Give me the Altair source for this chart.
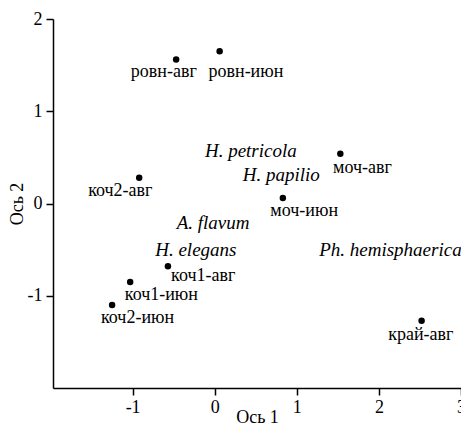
import altair as alt
import pandas as pd

# Sites (points)
site_names = ["ровн-авг", "ровн-июн", "коч2-авг", "моч-авг", "моч-июн",
              "коч1-авг", "коч1-июн", "коч2-июн", "край-авг"]
site_x = [-0.47, 0.06, -0.92, 1.53, 0.83, -0.57, -1.03, -1.25, 2.52]
site_y = [1.56, 1.65, 0.28, 0.54, 0.06, -0.68, -0.85, -1.10, -1.27]
# label anchor positions (data units)
site_label_x = [-0.62, 0.38, -1.15, 1.80, 1.09, -0.14, -0.65, -0.94, 2.51]
site_label_y = [1.43, 1.43, 0.14, 0.39, -0.08, -0.79, -0.99, -1.24, -1.43]

# Species (labels only)
species_names = ["H. petricola", "H. papilio", "A. flavum", "H. elegans", "Ph. hemisphaerica"]
species_x = [0.44, 0.81, -0.02, -0.23, 2.14]
species_y = [0.57, 0.31, -0.21, -0.50, -0.50]

x_ticks = [-1, 0, 1, 2, 3]
y_ticks = [-1, 0, 1, 2]

sites = pd.DataFrame({"name": site_names, "x": site_x, "y": site_y,
                      "lx": site_label_x, "ly": site_label_y})
species = pd.DataFrame({"name": species_names, "x": species_x, "y": species_y})

FONT = "Liberation Serif"
FS = 18
FS_SP = 19

xscale = alt.Scale(domain=[-1.97, 3], nice=False, zero=False)
yscale = alt.Scale(domain=[-2, 2], nice=False, zero=False)

common = dict(grid=False, labelFont=FONT, titleFont=FONT,
              labelFontSize=FS, titleFontSize=FS, titleFontWeight="normal",
              labelColor="black", titleColor="black", domainColor="black", tickColor="black",
              domainWidth=1.5, tickWidth=1.5, tickSize=7, labelFlush=False,
              format="d", labelExpr="replace(datum.label, '\u2212', '-')")

xaxis = alt.Axis(values=x_ticks, title="Ось 1", labelPadding=3,
                 titleY=34, titleBaseline="alphabetic", **common)
yaxis = alt.Axis(values=y_ticks, title="Ось 2", labelPadding=4, titlePadding=1, **common)

points = alt.Chart(sites).mark_circle(size=42, color="black", opacity=1).encode(
    x=alt.X("x:Q", scale=xscale, axis=xaxis),
    y=alt.Y("y:Q", scale=yscale, axis=yaxis),
)

site_labels = alt.Chart(sites).mark_text(font=FONT, fontSize=FS, color="black",
                                         align="center", baseline="middle").encode(
    x=alt.X("lx:Q", scale=xscale),
    y=alt.Y("ly:Q", scale=yscale),
    text="name:N",
)

species_labels = alt.Chart(species).mark_text(font=FONT, fontSize=FS_SP, fontStyle="italic",
                                              color="black", align="center",
                                              baseline="middle").encode(
    x=alt.X("x:Q", scale=xscale),
    y=alt.Y("y:Q", scale=yscale),
    text="name:N",
)

chart = alt.layer(points, site_labels, species_labels).properties(
    width=408, height=369,
    autosize=alt.AutoSizeParams(type="none"),
    padding={"left": 45, "top": 11, "right": 0, "bottom": 36},
).configure_view(stroke=None)

chart.save("out.html", embed_options={"renderer": "svg", "actions": False})
